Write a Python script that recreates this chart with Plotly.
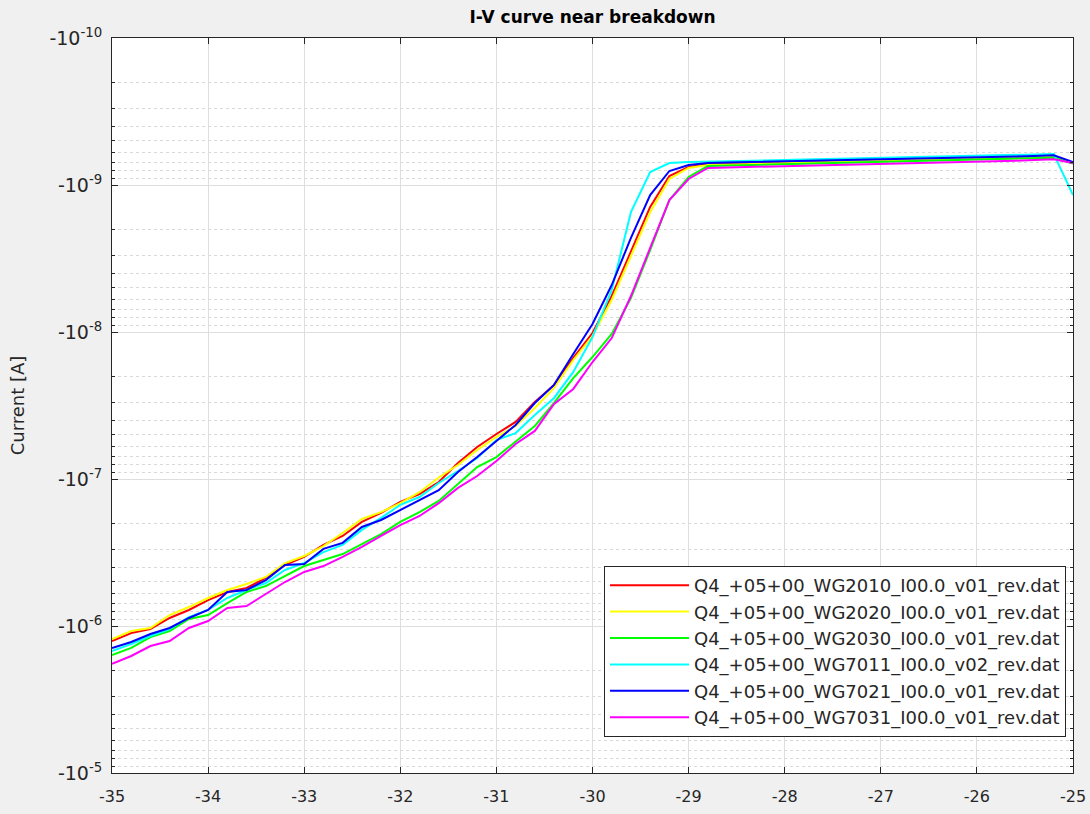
import numpy as np
import plotly.graph_objects as go

# Reverse sweep voltage [V]
voltage = [-35.0, -34.8, -34.6, -34.4, -34.2, -34.0, -33.8, -33.6, -33.4, -33.2,
           -33.0, -32.8, -32.6, -32.4, -32.2, -32.0, -31.8, -31.6, -31.4, -31.2,
           -31.0, -30.8, -30.6, -30.4, -30.2, -30.0, -29.8, -29.6, -29.4, -29.2,
           -29.0, -28.8, -28.6, -28.4, -28.2, -28.0, -27.8, -27.6, -27.4, -27.2,
           -27.0, -26.8, -26.6, -26.4, -26.2, -26.0, -25.8, -25.6, -25.4, -25.2,
           -25.0]

# Measured currents [A] (negative, reverse bias)
i_wg2010 = [-1.265e-6, -1.116e-6, -1.048e-6, -8.82e-7, -7.78e-7, -6.66e-7, -5.87e-7, -5.51e-7, -4.71e-7, -3.85e-7,
            -3.39e-7, -2.81e-7, -2.44e-7, -1.96e-7, -1.70e-7, -1.43e-7, -1.265e-7, -1.048e-7, -7.78e-8, -6.06e-8,
            -4.94e-8, -4.09e-8, -2.99e-8, -2.29e-8, -1.50e-8, -1.016e-8, -5.69e-9, -2.81e-9, -1.41e-9, -8.69e-10,
            -7.54e-10, -7.20e-10, -7.15e-10, -7.12e-10, -7.08e-10, -7.05e-10, -7.01e-10, -6.97e-10, -6.93e-10, -6.90e-10,
            -6.86e-10, -6.82e-10, -6.78e-10, -6.74e-10, -6.70e-10, -6.66e-10, -6.61e-10, -6.57e-10, -6.52e-10, -6.46e-10,
            -7.09e-10]
i_wg2020 = [-1.226e-6, -1.081e-6, -1.032e-6, -8.42e-7, -7.43e-7, -6.45e-7, -5.69e-7, -5.18e-7, -4.64e-7, -3.73e-7,
            -3.34e-7, -2.86e-7, -2.33e-7, -1.87e-7, -1.68e-7, -1.46e-7, -1.23e-7, -9.77e-8, -8.03e-8, -6.35e-8,
            -5.18e-8, -4.36e-8, -3.29e-8, -2.40e-8, -1.55e-8, -1.065e-8, -6.06e-9, -3.04e-9, -1.53e-9, -9.10e-10,
            -7.66e-10, -7.31e-10, -7.26e-10, -7.21e-10, -7.17e-10, -7.12e-10, -7.08e-10, -7.03e-10, -6.99e-10, -6.95e-10,
            -6.90e-10, -6.86e-10, -6.81e-10, -6.76e-10, -6.72e-10, -6.67e-10, -6.62e-10, -6.56e-10, -6.50e-10, -6.42e-10,
            -7.10e-10]
i_wg2030 = [-1.575e-6, -1.41e-6, -1.19e-6, -1.081e-6, -8.96e-7, -8.42e-7, -6.98e-7, -5.87e-7, -5.35e-7, -4.57e-7,
            -3.91e-7, -3.56e-7, -3.24e-7, -2.77e-7, -2.37e-7, -1.96e-7, -1.68e-7, -1.41e-7, -1.081e-7, -8.29e-8,
            -7.09e-8, -5.60e-8, -4.36e-8, -3.04e-8, -2.06e-8, -1.48e-8, -1.032e-8, -5.87e-9, -2.77e-9, -1.265e-9,
            -8.82e-10, -7.43e-10, -7.38e-10, -7.33e-10, -7.29e-10, -7.24e-10, -7.19e-10, -7.14e-10, -7.10e-10, -7.05e-10,
            -7.00e-10, -6.96e-10, -6.91e-10, -6.86e-10, -6.81e-10, -6.76e-10, -6.71e-10, -6.65e-10, -6.59e-10, -6.52e-10,
            -7.15e-10]
i_wg7011 = [-1.479e-6, -1.326e-6, -1.17e-6, -1.048e-6, -8.69e-7, -7.78e-7, -6.45e-7, -5.69e-7, -5.10e-7, -4.16e-7,
            -3.73e-7, -3.14e-7, -2.81e-7, -2.22e-7, -1.84e-7, -1.50e-7, -1.326e-7, -1.065e-7, -8.82e-8, -7.20e-8,
            -5.43e-8, -4.87e-8, -3.67e-8, -2.81e-8, -1.87e-8, -1.081e-8, -5.18e-9, -1.53e-9, -8.16e-10, -7.09e-10,
            -6.98e-10, -6.92e-10, -6.88e-10, -6.84e-10, -6.80e-10, -6.76e-10, -6.72e-10, -6.68e-10, -6.64e-10, -6.60e-10,
            -6.56e-10, -6.52e-10, -6.48e-10, -6.44e-10, -6.40e-10, -6.36e-10, -6.31e-10, -6.26e-10, -6.21e-10, -6.16e-10,
            -1.17e-9]
i_wg7021 = [-1.41e-6, -1.285e-6, -1.134e-6, -1.032e-6, -8.82e-7, -7.78e-7, -5.87e-7, -5.69e-7, -4.87e-7, -3.85e-7,
            -3.79e-7, -2.99e-7, -2.72e-7, -2.12e-7, -1.90e-7, -1.625e-7, -1.39e-7, -1.19e-7, -8.96e-8, -7.09e-8,
            -5.51e-8, -4.29e-8, -3.04e-8, -2.29e-8, -1.41e-8, -8.82e-9, -4.79e-9, -2.29e-9, -1.17e-9, -8.03e-10,
            -7.31e-10, -7.09e-10, -7.04e-10, -7.00e-10, -6.96e-10, -6.92e-10, -6.88e-10, -6.84e-10, -6.80e-10, -6.76e-10,
            -6.72e-10, -6.68e-10, -6.63e-10, -6.59e-10, -6.55e-10, -6.50e-10, -6.45e-10, -6.40e-10, -6.34e-10, -6.27e-10,
            -6.98e-10]
i_wg7031 = [-1.81e-6, -1.60e-6, -1.368e-6, -1.265e-6, -1.032e-6, -9.25e-7, -7.54e-7, -7.31e-7, -6.06e-7, -5.02e-7,
            -4.29e-7, -3.91e-7, -3.39e-7, -2.90e-7, -2.44e-7, -2.06e-7, -1.785e-7, -1.46e-7, -1.15e-7, -9.54e-8,
            -7.54e-8, -5.78e-8, -4.71e-8, -3.09e-8, -2.44e-8, -1.60e-8, -1.10e-8, -5.69e-9, -2.68e-9, -1.265e-9,
            -9.10e-10, -7.66e-10, -7.60e-10, -7.55e-10, -7.50e-10, -7.45e-10, -7.40e-10, -7.35e-10, -7.30e-10, -7.25e-10,
            -7.20e-10, -7.15e-10, -7.10e-10, -7.05e-10, -7.00e-10, -6.95e-10, -6.89e-10, -6.83e-10, -6.76e-10, -6.68e-10,
            -7.09e-10]

series_names = ["Q4_+05+00_WG2010_I00.0_v01_rev.dat",
                "Q4_+05+00_WG2020_I00.0_v01_rev.dat",
                "Q4_+05+00_WG2030_I00.0_v01_rev.dat",
                "Q4_+05+00_WG7011_I00.0_v02_rev.dat",
                "Q4_+05+00_WG7021_I00.0_v01_rev.dat",
                "Q4_+05+00_WG7031_I00.0_v01_rev.dat"]
series_colors = ["#ff0000", "#ffff00", "#00ff00", "#00ffff", "#0000ff", "#ff00ff"]
series_values = [i_wg2010, i_wg2020, i_wg2030, i_wg7011, i_wg7021, i_wg7031]

x_ticks = [-35, -34, -33, -32, -31, -30, -29, -28, -27, -26, -25]
y_tick_vals = [1e-10, 1e-9, 1e-8, 1e-7, 1e-6, 1e-5]
y_tick_text = ["-10<sup>-10</sup>", "-10<sup>-9</sup>", "-10<sup>-8</sup>",
               "-10<sup>-7</sup>", "-10<sup>-6</sup>", "-10<sup>-5</sup>"]
y_minor_vals = [m * 10.0 ** e for e in range(-10, -5) for m in range(2, 10)]

FONT = "DejaVu Sans, Liberation Sans, Arial, sans-serif"
INK = "#262626"

fig = go.Figure()
for name, color, vals in zip(series_names, series_colors, series_values):
    fig.add_trace(go.Scatter(x=voltage, y=np.abs(np.array(vals)), mode="lines", name=name,
                             line=dict(color=color, width=2)))

fig.update_layout(
    width=1090, height=814,
    paper_bgcolor="#f0f0f0", plot_bgcolor="white",
    margin=dict(l=112, r=17, t=38, b=41),
    font=dict(family=FONT, color=INK, size=17),
    title=dict(text="<b>I-V curve near breakdown</b>", x=592.5 / 1090, xanchor="center",
               y=1 - 17 / 814, yanchor="middle", yref="container",
               font=dict(size=17, color="#000000", family=FONT)),
    showlegend=True,
    legend=dict(x=(1066 - 112) / 961, xanchor="right", y=(773 - 737) / 735, yanchor="bottom",
                bgcolor="white", bordercolor=INK, borderwidth=1, itemwidth=79,
                font=dict(size=18, color=INK, family=FONT), tracegroupgap=0),
)

fig.update_xaxes(range=[-35, -25], tickvals=x_ticks, ticktext=[str(t) for t in x_ticks],
                 showgrid=True, gridcolor="#dedede", gridwidth=1, automargin=False,
                 ticks="inside", ticklen=6, tickcolor=INK, showline=True, linecolor=INK,
                 linewidth=1, mirror="ticks", zeroline=False, ticklabelstandoff=9,
                 tickfont=dict(size=16, color=INK))
fig.update_yaxes(type="log", range=[-5, -10], tickvals=y_tick_vals, ticktext=y_tick_text,
                 showgrid=True, gridcolor="#dedede", gridwidth=1, automargin=False,
                 ticks="inside", ticklen=6, tickcolor=INK, showline=True, linecolor=INK,
                 linewidth=1, mirror="ticks", zeroline=False, ticklabelstandoff=5,
                 tickfont=dict(size=19, color=INK),
                 title=dict(text="Current [A]", font=dict(size=18, color=INK), standoff=20),
                 minor=dict(tickmode="array", tickvals=y_minor_vals, ticks="inside", ticklen=3,
                            tickcolor=INK, showgrid=True, gridcolor="#d8d8d8", griddash="3px,3px",
                            gridwidth=1))

fig.write_html("out.html")
